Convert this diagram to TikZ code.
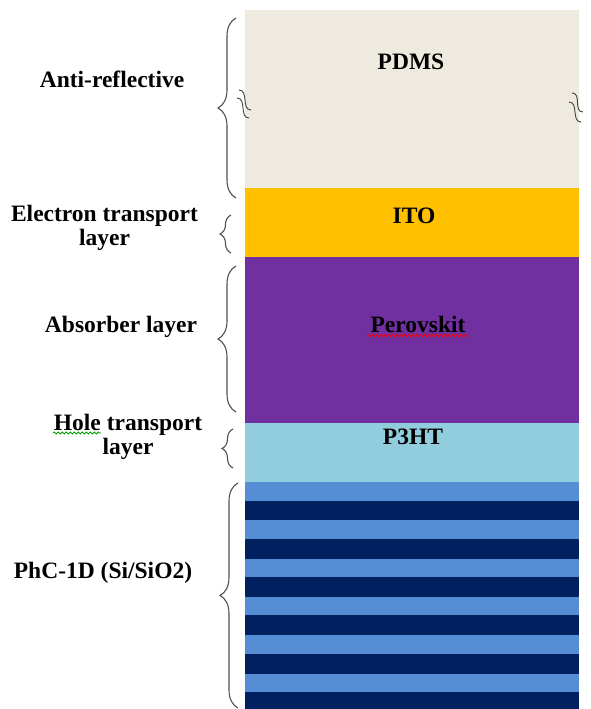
\documentclass[tikz,border=0pt]{standalone}
\usepackage{fontspec}
\setmainfont{Liberation Serif}
\usetikzlibrary{decorations.pathreplacing,decorations.pathmorphing}
\definecolor{pdmsc}{HTML}{EEEAE0}
\definecolor{itoc}{HTML}{FFC000}
\definecolor{perc}{HTML}{7030A0}
\definecolor{htlc}{HTML}{92CDDD}
\definecolor{lightc}{HTML}{558ED5}
\definecolor{darkc}{HTML}{002060}
\definecolor{bracec}{HTML}{505050}
\begin{document}
\begin{tikzpicture}[x=1pt,y=-1pt,
  layer/.style={draw=none, anchor=north west, minimum width=334pt, inner sep=0, outer sep=0},
  lbl/.style={font=\fontsize{23.5}{23.5}\selectfont\bfseries, align=center, inner sep=0, anchor=base},
  brc/.style={draw=bracec, line width=1.1pt, decorate, decoration={brace, amplitude=#1}},
  brc/.default=18pt,
  wavy/.style={line width=0.8pt, decorate, decoration={snake, amplitude=1.1pt, segment length=4pt}},
  brk/.style={draw=black!75, line width=0.9pt}]
\useasboundingbox (0,0) rectangle (590,709);
% layers
\node[layer, fill=pdmsc, minimum height=178pt] (pdms) at (245,10) {};
\node[layer, fill=itoc, minimum height=69pt] (ito) at (245,188) {};
\node[layer, fill=perc, minimum height=166pt] (per) at (245,257) {};
\node[layer, fill=htlc, minimum height=59pt] (htl) at (245,423) {};
\node[layer, fill=darkc, minimum height=227pt] (phc) at (245,482) {};
\foreach \k in {0,...,5}{
  \fill[lightc] (245,{482+\k*38.3}) rectangle (579,{482+\k*38.3+18.5});
}
% layer texts
\node[lbl] (tpdms) at (411,69.5) {PDMS};
\node[lbl] (tito) at (414,223) {ITO};
\node[lbl] (tper) at (418,332) {Perovskit};
\node[lbl] (thtl) at (413,444) {P3HT};
% side labels
\node[lbl] (lar) at (112,88) {Anti-reflective};
\node[lbl] (let) at (104.5,245) {Electron transport\\layer};
\node[lbl] (lab) at (121,332) {Absorber layer};
\node[lbl] (lht) at (128,454) {Hole transport\\layer};
\node[lbl] (lphc) at (103,578) {PhC-1D (Si/SiO2)};
% braces
\coordinate (b1a) at (236,198); \coordinate (b1b) at (236,18);
\coordinate (b2a) at (231,253); \coordinate (b2b) at (231,215);
\coordinate (b3a) at (236,412); \coordinate (b3b) at (236,266);
\coordinate (b4a) at (233,468); \coordinate (b4b) at (233,429);
\coordinate (b5a) at (238,708); \coordinate (b5b) at (238,483);
\draw[brc] (b1a) -- (b1b);
\draw[brc=11pt] (b2a) -- (b2b);
\draw[brc] (b3a) -- (b3b);
\draw[brc=11pt] (b4a) -- (b4b);
\draw[brc] (b5a) -- (b5b);
% break marks
\draw[brk] (239,90) .. controls (249,90) and (241,110) .. (251,110);
\draw[brk] (237,98) .. controls (247,98) and (239,118) .. (249,118);
\draw[brk] (572,93) .. controls (582,93) and (573,112) .. (583,112);
\draw[brk] (569,102) .. controls (579,102) and (571,122) .. (581,122);
% spell-check underlines
\draw[wavy, red] (367,335.5) -- (468,335.5);
\draw[wavy, green!60!black] (53,433) -- (101,433);
\end{tikzpicture}
\end{document}
